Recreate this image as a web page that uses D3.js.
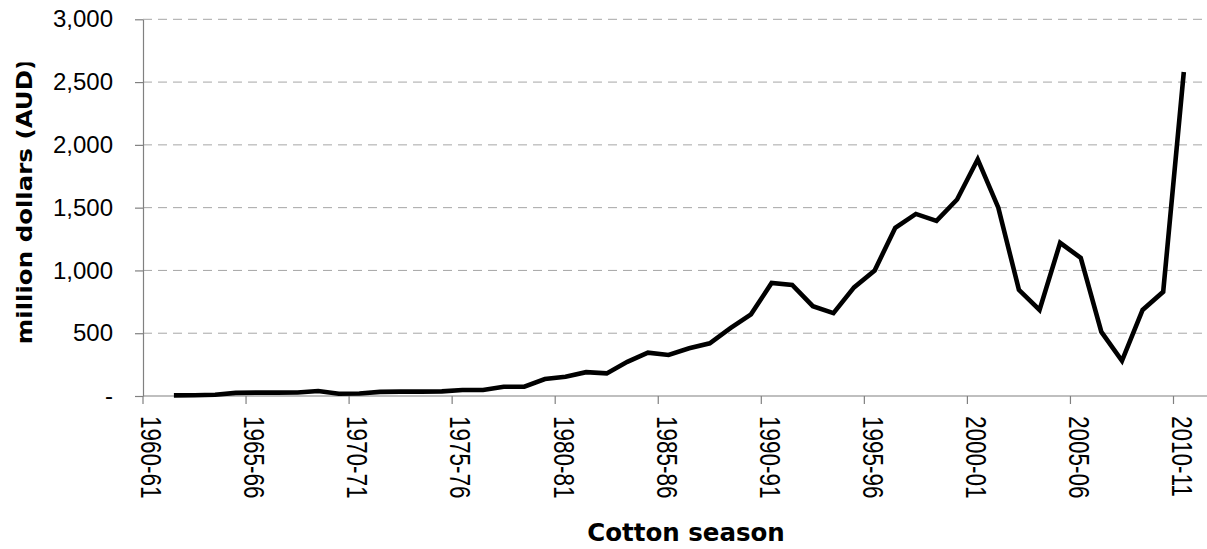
<!DOCTYPE html>
<html>
<head>
<meta charset="utf-8">
<script src="https://cdn.jsdelivr.net/npm/d3@7/dist/d3.min.js"></script>
<style>
  html, body { margin: 0; padding: 0; background: #fff; overflow: hidden; }
</style>
</head>
<body>
<svg id="chart" width="1207" height="549"></svg>
<script>
// Cotton seasons shown on the category axis
const seasons = [
  '1960-61','1961-62','1962-63','1963-64','1964-65','1965-66','1966-67','1967-68','1968-69','1969-70',
  '1970-71','1971-72','1972-73','1973-74','1974-75','1975-76','1976-77','1977-78','1978-79','1979-80',
  '1980-81','1981-82','1982-83','1983-84','1984-85','1985-86','1986-87','1987-88','1988-89','1989-90',
  '1990-91','1991-92','1992-93','1993-94','1994-95','1995-96','1996-97','1997-98','1998-99','1999-00',
  '2000-01','2001-02','2002-03','2003-04','2004-05','2005-06','2006-07','2007-08','2008-09','2009-10',
  '2010-11',
];

// million dollars (AUD); 1960-61 has no value
const values = [
  null, 5, 6, 10, 25, 27, 27, 28, 40, 18,
  20, 33, 35, 35, 37, 48, 48, 74, 74, 135,
  154, 190, 180, 272, 345, 327, 380, 420, 540, 650,
  900, 885, 715, 660, 865, 1000, 1340, 1450, 1395, 1565,
  1885, 1500, 845, 685, 1220, 1100, 510, 280, 685, 830,
  2580,
];

const xTickLabels = ['1960-61','1965-66','1970-71','1975-76','1980-81','1985-86',
                     '1990-91','1995-96','2000-01','2005-06','2010-11'];
const yTicks = [0, 500, 1000, 1500, 2000, 2500, 3000];

const W = 1207, H = 549;
const plotLeft = 143, plotTop = 19.3, plotBottom = 396;
const bandW = 20.61;

const svg = d3.select('#chart');

const x = d3.scaleBand()
  .domain(seasons)
  .range([plotLeft, plotLeft + seasons.length * bandW])
  .padding(0);

const y = d3.scaleLinear().domain([0, 3000]).range([plotBottom, plotTop]);

// Dashed gridlines
svg.append('g')
  .selectAll('line')
  .data(yTicks.filter(d => d > 0))
  .join('line')
  .attr('x1', plotLeft).attr('x2', W)
  .attr('y1', d => y(d)).attr('y2', d => y(d))
  .attr('stroke', '#a6a6a6')
  .attr('stroke-width', 1)
  .attr('stroke-dasharray', '9,6');

// Y axis
const yAxis = svg.append('g')
  .attr('transform', `translate(${plotLeft},0)`)
  .call(d3.axisLeft(y)
    .tickValues(yTicks)
    .tickSize(8)
    .tickSizeOuter(0)
    .tickPadding(22)
    .tickFormat(d => d === 0 ? '-' : d3.format(',')(d)));
yAxis.selectAll('.domain, line').attr('stroke', '#808080').attr('stroke-width', 1.2);
yAxis.selectAll('text')
  .attr('fill', '#000')
  .attr('font-family', '"Liberation Sans", Arial, sans-serif')
  .attr('font-size', 24);

// X axis baseline
svg.append('line')
  .attr('x1', plotLeft).attr('x2', W)
  .attr('y1', y(0)).attr('y2', y(0))
  .attr('stroke', '#808080').attr('stroke-width', 1.2);

// X ticks at category boundaries, every 5 seasons
svg.append('g')
  .selectAll('line')
  .data(xTickLabels)
  .join('line')
  .attr('x1', d => x(d)).attr('x2', d => x(d))
  .attr('y1', y(0)).attr('y2', y(0) + 8)
  .attr('stroke', '#808080').attr('stroke-width', 1.2);

// X tick labels, rotated, at category centres
svg.append('g')
  .selectAll('text')
  .data(xTickLabels)
  .join('text')
  .attr('transform', d => `translate(${x(d) + x.bandwidth() / 2},416) rotate(90) scale(0.75,1)`)
  .attr('dy', '0.4em')
  .attr('font-family', '"Liberation Sans", Arial, sans-serif')
  .attr('font-size', 30)
  .attr('fill', '#000')
  .text(d => d);

// Data line
const line = d3.line()
  .defined(d => d.v != null)
  .x(d => x(d.s) + x.bandwidth() / 2)
  .y(d => y(d.v));

svg.append('path')
  .datum(seasons.map((s, i) => ({ s, v: values[i] })))
  .attr('d', line)
  .attr('fill', 'none')
  .attr('stroke', '#000')
  .attr('stroke-width', 4.6)
  .attr('stroke-linejoin', 'miter');

// Axis titles (top of the y title is cut off, as in the original)
svg.append('defs').append('clipPath').attr('id', 'ytitle-clip')
  .append('rect').attr('x', 0).attr('y', 62.5).attr('width', 60).attr('height', 320);

svg.append('g').attr('clip-path', 'url(#ytitle-clip)')
  .append('text')
  .attr('transform', 'translate(32,201.5) rotate(-90) scale(1,0.85)')
  .attr('text-anchor', 'middle')
  .attr('font-family', '"DejaVu Sans", Verdana, sans-serif')
  .attr('font-weight', 'bold')
  .attr('font-size', 24.5)
  .attr('fill', '#000')
  .text('million dollars (AUD)');

svg.append('text')
  .attr('x', 686).attr('y', 541)
  .attr('text-anchor', 'middle')
  .attr('font-family', '"DejaVu Sans", Verdana, sans-serif')
  .attr('font-weight', 'bold')
  .attr('font-size', 24.5)
  .attr('fill', '#000')
  .text('Cotton season');
</script>
</body>
</html>
